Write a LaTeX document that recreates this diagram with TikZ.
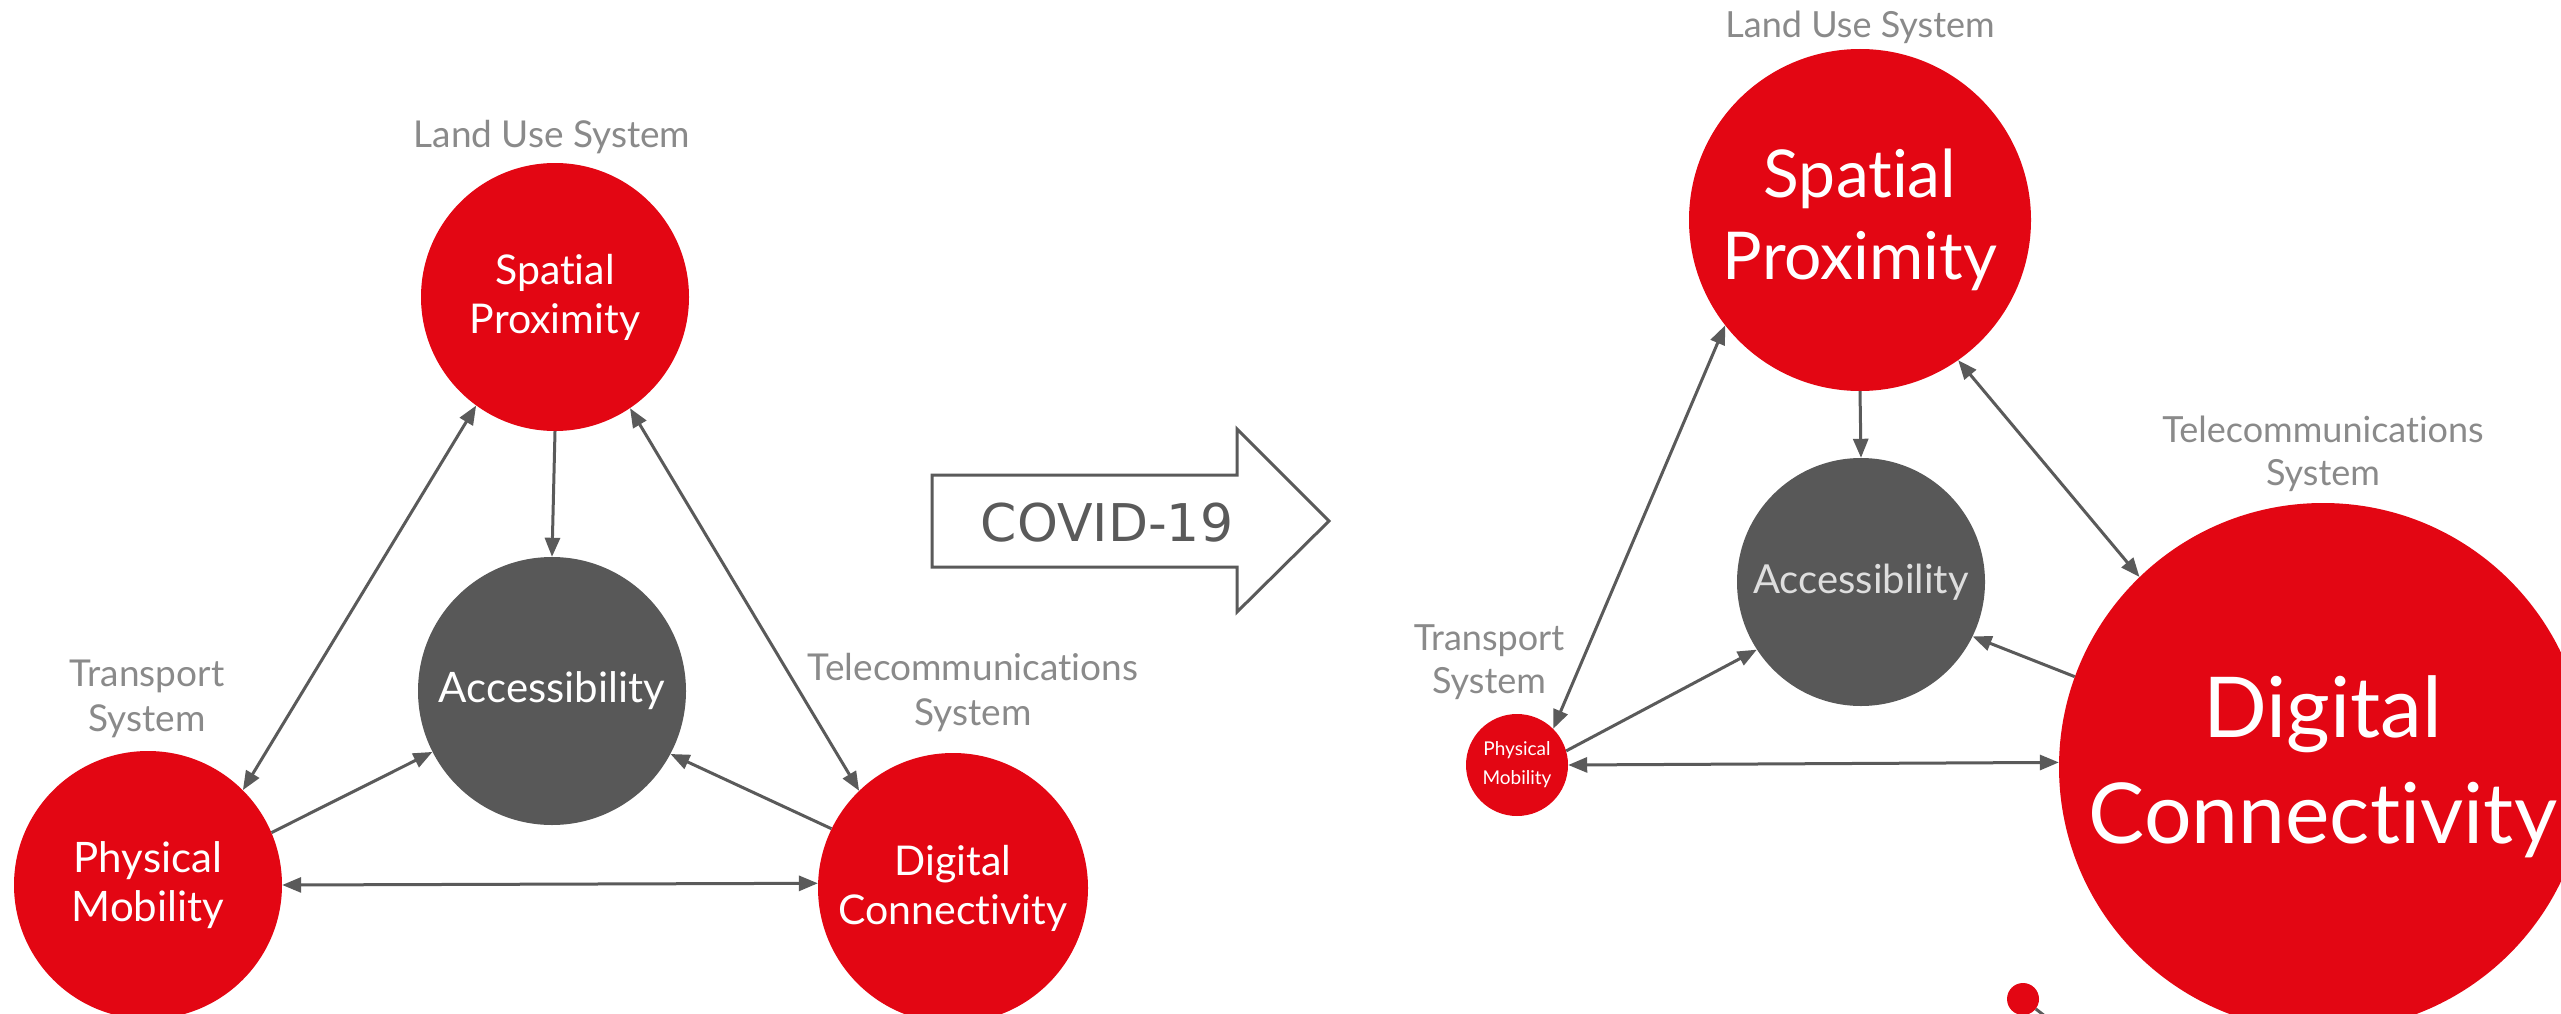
\documentclass[tikz,border=0pt]{standalone}
\usepackage{fontspec}
\setmainfont{Lato}[Ligatures={NoCommon}]
\newfontfamily\dejavu{DejaVu Sans}
\usetikzlibrary{arrows.meta}
\definecolor{cred}{HTML}{E30613}
\definecolor{cacc}{HTML}{585858}
\definecolor{carrow}{HTML}{5A5A5A}
\definecolor{clabel}{HTML}{8A8A8A}
\begin{document}
\begin{tikzpicture}[x=1pt,y=-1pt,
  redc/.style={circle,fill=cred,draw=none,inner sep=0pt,text=white,align=center},
  accc/.style={circle,fill=cacc,draw=none,inner sep=0pt,align=center},
  lbl/.style={text=clabel,align=center,inner sep=0pt},
  conn/.style={draw=carrow,line width=3pt,-{Triangle[length=19pt,width=15pt]}},
  conn2/.style={draw=carrow,line width=3pt,{Triangle[length=19pt,width=15pt]}-{Triangle[length=19pt,width=15pt]}},
  tail/.style={draw=carrow,line width=3pt}]
\useasboundingbox (0,0) rectangle (2561,1014);
\clip (0,0) rectangle (2561,1014);
\fill[white] (0,0) rectangle (2561,1014);

% ---------------- left diagram ----------------
\node[redc,minimum size=268pt,font=\fontsize{41}{49}\selectfont] (sp1) at (555,297) {Spatial\\Proximity};
\node[accc,minimum size=268pt,text=white,font=\fontsize{42}{49}\selectfont] (ac1) at (552,691) {Accessibility};
\node[redc,minimum size=268pt,font=\fontsize{42}{49}\selectfont] (pm1) at (148,885) {Physical\\Mobility};
\node[redc,minimum size=270pt,font=\fontsize{41}{49}\selectfont] (dc1) at (953,888) {Digital\\Connectivity};

\node[lbl,font=\fontsize{37}{45}\selectfont] (lu1) at (552,137) {Land Use System};
\node[lbl,font=\fontsize{37}{45}\selectfont] (ts1) at (147,699) {Transport\\System};
\node[lbl,font=\fontsize{37}{45}\selectfont] (tc1) at (973,693) {Telecommunications\\System};

\draw[conn] (sp1.south) -- (ac1.north);
\draw[conn2] (sp1.234) -- (pm1.45);
\draw[conn2] (sp1.304) -- (dc1.134);
\draw[conn] (pm1.23) -- (ac1.207);
\draw[conn] (dc1.154) -- (ac1.332);
\draw[conn2] (pm1.0) -- (dc1.178);

% ---------------- COVID arrow ----------------
\draw[draw=carrow,line width=3pt,line join=miter,fill=white]
  (932,475) -- (1237,475) -- (1237,429) -- (1329,521) -- (1237,612) -- (1237,567) -- (932,567) -- cycle;
\node[text=carrow,font=\dejavu\fontsize{52}{60}\selectfont,inner sep=0pt] (covid) at (1107,523) {COVID-19};

% ---------------- right diagram ----------------
\node[redc,minimum size=342pt,font=\fontsize{66}{82}\selectfont] (sp2) at (1860,220) {Spatial\\Proximity};
\node[accc,minimum size=248pt,text=white!87!black,font=\fontsize{40}{45}\selectfont] (ac2) at (1861,582) {Accessibility};
\node[redc,minimum size=102pt,font=\fontsize{19}{29}\selectfont] (pm2) at (1517,765) {Physical\\Mobility};
\node[redc,minimum size=528pt,font=\fontsize{84}{106}\selectfont] (dc2) at (2323,767) {Digital\\Connectivity};

\node[lbl,font=\fontsize{36}{43}\selectfont] (lu2) at (1860,27) {Land Use System};
\node[lbl,font=\fontsize{36}{43}\selectfont] (ts2) at (1489,662) {Transport\\System};
\node[lbl,font=\fontsize{36}{43}\selectfont] (tc2) at (2323,454) {Telecommunications\\System};

\draw[conn] (sp2.south) -- (ac2.north);
\draw[conn2] (sp2.218) -- (pm2.45);
\draw[conn2] (sp2.305) -- (dc2.134.6);
\draw[conn] (pm2.16) -- (ac2.213);
\draw[conn] (dc2.160) -- (ac2.334);
\draw[conn2] (pm2.0) -- (dc2.179);

% bottom fragment
\node[circle,fill=cred,inner sep=0pt,minimum size=32pt] (dot) at (2023,999) {};
\coordinate (dotend) at (2050,1020);
\draw[tail] (dot) -- (dotend);
\end{tikzpicture}
\end{document}
